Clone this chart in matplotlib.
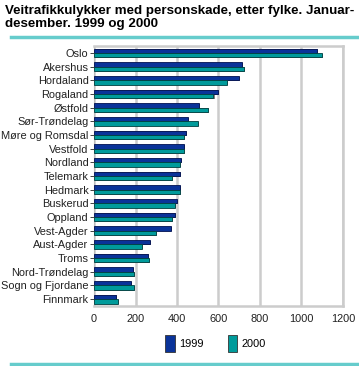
import numpy as np
import matplotlib.pyplot as plt
from matplotlib.lines import Line2D
from matplotlib.patches import Patch

plt.rcParams['font.family'] = ['Liberation Sans', 'DejaVu Sans']

fylker = ['Oslo', 'Akershus', 'Hordaland', 'Rogaland', 'Østfold', 'Sør-Trøndelag',
          'Møre og Romsdal', 'Vestfold', 'Nordland', 'Telemark', 'Hedmark', 'Buskerud',
          'Oppland', 'Vest-Agder', 'Aust-Agder', 'Troms', 'Nord-Trøndelag',
          'Sogn og Fjordane', 'Finnmark']
ulykker_1999 = [1075, 712, 700, 597, 505, 455, 442, 432, 418, 416, 413, 400,
                391, 370, 269, 262, 188, 176, 108]
ulykker_2000 = [1098, 722, 640, 576, 548, 500, 432, 432, 413, 374, 416, 391,
                376, 300, 230, 267, 191, 191, 116]

blaa = '#0a3399'
teal = '#009b9b'
skygge = '#808080'

fig = plt.figure(figsize=(3.59, 3.66), dpi=100)
ax = fig.add_axes([0.262, 0.164, 0.693, 0.71])

y = np.arange(len(fylker))
h = 0.32
# skygge bak søylene
ax.barh(y - h / 2 + 0.05, np.array(ulykker_1999) + 5, height=h, color=skygge, zorder=2)
ax.barh(y + h / 2 + 0.05, np.array(ulykker_2000) + 5, height=h, color=skygge, zorder=2)
ax.barh(y - h / 2, ulykker_1999, height=h, color=blaa, edgecolor='#001050',
        linewidth=0.6, zorder=3)
ax.barh(y + h / 2, ulykker_2000, height=h, color=teal, edgecolor='#004040',
        linewidth=0.6, zorder=3)

ax.set_ylim(len(fylker) - 0.5, -0.5)
ax.set_xlim(0, 1200)
ax.set_xticks(range(0, 1201, 200))
ax.set_yticks(y)
ax.set_yticklabels(fylker)
ax.tick_params(axis='both', labelsize=7.9, colors='#222222', length=3, width=0.6)
ax.tick_params(axis='x', length=0, pad=6)
ax.tick_params(axis='y', pad=1)
ax.xaxis.grid(True, color='#cccccc', linewidth=1.8, zorder=0)
ax.set_axisbelow(True)
for s in ['top', 'right', 'bottom']:
    ax.spines[s].set_color('#cccccc')
    ax.spines[s].set_linewidth(1.8)
ax.spines['left'].set_color('#bbbbbb')
ax.spines['left'].set_linewidth(0.8)

fig.text(0.014, 0.985, 'Veitrafikkulykker med personskade, etter fylke. Januar-\n'
         'desember. 1999 og 2000', fontsize=9.6, fontweight='bold', va='top',
         ha='left', linespacing=1.1)
fig.add_artist(Line2D([0.03, 1.0], [0.898, 0.898], color='#66cccc', linewidth=2.5))
fig.add_artist(Line2D([0.03, 1.0], [0.006, 0.006], color='#66cccc', linewidth=2.5))

handles = [Patch(facecolor=blaa, edgecolor='#333333', linewidth=0.6),
           Patch(facecolor=teal, edgecolor='#333333', linewidth=0.6)]
fig.legend(handles, ['1999', '2000'], loc='center', bbox_to_anchor=(0.6, 0.062),
           ncol=2, frameon=False, fontsize=7.9, handlelength=0.9, handleheight=2.0,
           handletextpad=0.4, columnspacing=2.2)

fig.savefig('out.png', dpi=100)
